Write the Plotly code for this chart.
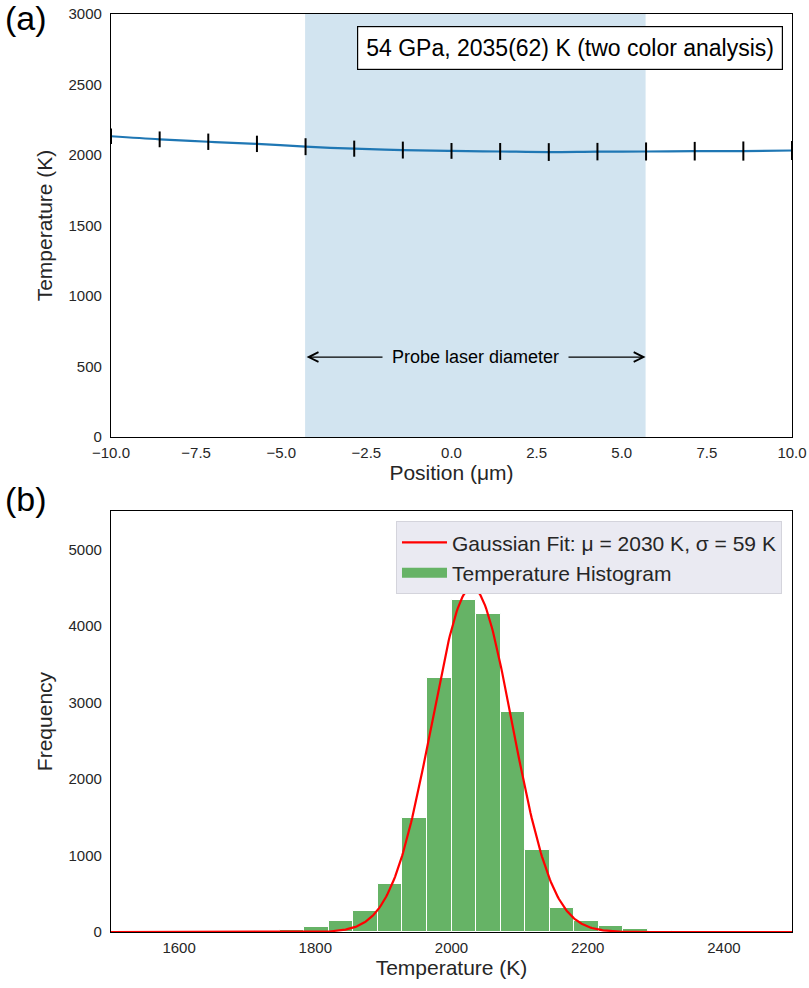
import numpy as np
import plotly.graph_objects as go
from plotly.subplots import make_subplots

# ---------------- data: panel (a) ----------------
positions = [-10.0, -8.571, -7.143, -5.714, -4.286, -2.857, -1.429, 0.0,
             1.429, 2.857, 4.286, 5.714, 7.143, 8.571, 10.0]
temperatures = [2133, 2111, 2094, 2079, 2059, 2045, 2035, 2029,
                2025, 2021, 2024, 2025, 2027, 2028, 2032]
temp_errors = [55, 56, 58, 58, 60, 57, 60, 56, 60, 63, 62, 64, 66, 68, 68]
probe_left, probe_right = -4.3, 5.7
probe_label_y = 567
box_text = "54 GPa, 2035(62) K (two color analysis)"

# ---------------- data: panel (b) ----------------
bin_width = 36
bin_left_edges = [1676, 1712, 1748, 1784, 1820, 1856, 1892, 1928, 1964, 2000,
                  2036, 2072, 2108, 2144, 2180, 2216, 2252, 2288, 2324]
bin_counts = [3, 12, 28, 65, 138, 278, 630, 1495, 3315, 4332,
              4150, 2878, 1075, 312, 142, 78, 44, 12, 3]
fit_mu = 2030
fit_sigma = 59
fit_peak = 4500

FONT = "Arial, Liberation Sans, sans-serif"
TXT = "#262626"
GREEN = "#66b366"

fig = make_subplots(rows=2, cols=1, vertical_spacing=0.0)

fig.add_trace(go.Scatter(x=positions, y=temperatures, mode="lines",
                         line=dict(color="#1f77b4", width=2.2, shape="spline"),
                         showlegend=False), row=1, col=1)
fig.add_trace(go.Scatter(x=positions, y=temperatures, mode="markers",
                         marker=dict(size=1, color="rgba(0,0,0,0)"),
                         error_y=dict(type="data", array=temp_errors, color="black",
                                      thickness=2, width=0),
                         showlegend=False), row=1, col=1)

# shaded probe region
fig.add_shape(type="rect", xref="x", yref="y domain", x0=probe_left, x1=probe_right,
              y0=0, y1=1, fillcolor="#d2e4f0", line_width=0, layer="below")

# histogram bars
bin_centers = [e + bin_width / 2 for e in bin_left_edges]
fig.add_trace(go.Bar(x=bin_centers, y=bin_counts, width=bin_width,
                     marker=dict(color=GREEN, line=dict(color="white", width=1)),
                     showlegend=False), row=2, col=1)

xg = np.linspace(1500, 2500, 600)
yg = fit_peak * np.exp(-(xg - fit_mu) ** 2 / (2 * fit_sigma ** 2))
fig.add_trace(go.Scatter(x=xg, y=yg, mode="lines", line=dict(color="#ff0000", width=2.2),
                         name=f"Gaussian Fit: \u03bc = {fit_mu} K, \u03c3 = {fit_sigma} K",
                         legendrank=1), row=2, col=1)
# legend entry for histogram (wide patch)
fig.add_trace(go.Scatter(x=[None], y=[None], mode="lines", line=dict(color=GREEN, width=13),
                         name="Temperature Histogram", legendrank=2), row=2, col=1)

axis_common = dict(showline=True, linecolor="black", linewidth=1.3, mirror=True,
                   showgrid=False, zeroline=False, ticks="", automargin=False,
                   tickfont=dict(family=FONT, size=15, color=TXT))

fig.update_xaxes(**axis_common, ticklabelstandoff=2)
fig.update_yaxes(**axis_common, ticklabelstandoff=5)

fig.update_xaxes(range=[-10, 10], tickvals=[-10, -7.5, -5, -2.5, 0, 2.5, 5, 7.5, 10],
                 tickformat=".1f",
                 title=dict(text="Position (\u03bcm)", font=dict(family=FONT, size=21, color=TXT),
                            standoff=4),
                 row=1, col=1)
fig.update_yaxes(range=[0, 3000], dtick=500,
                 title=dict(text="Temperature (K)", font=dict(family=FONT, size=21, color=TXT),
                            standoff=10),
                 domain=[0.5392, 1], row=1, col=1)
fig.update_xaxes(range=[1500, 2500], dtick=200,
                 title=dict(text="Temperature (K)", font=dict(family=FONT, size=21, color=TXT),
                            standoff=4),
                 row=2, col=1)
fig.update_yaxes(range=[0, 5500], dtick=1000,
                 title=dict(text="Frequency", font=dict(family=FONT, size=21, color=TXT),
                            standoff=10),
                 domain=[0, 0.4586], row=2, col=1)

# probe laser arrow
fig.add_annotation(x=probe_right, y=probe_label_y, ax=probe_left, ay=probe_label_y,
                   xref="x", yref="y", axref="x", ayref="y", text="",
                   showarrow=True, arrowside="end+start", arrowhead=5, arrowsize=1.6,
                   arrowwidth=1.2, arrowcolor="black")
fig.add_annotation(x=(probe_left + probe_right) / 2, y=probe_label_y, xref="x", yref="y",
                   text="Probe laser diameter", showarrow=False, bgcolor="#d2e4f0",
                   borderpad=9, font=dict(family=FONT, size=18, color="black"))

# info box
fig.add_annotation(x=0.9868, y=0.9716, xref="x domain", yref="y domain",
                   xanchor="right", yanchor="top", text=box_text, showarrow=False,
                   bgcolor="white", bordercolor="black", borderwidth=1.2, borderpad=8,
                   font=dict(family=FONT, size=23, color="black"))

# panel labels
fig.add_annotation(x=-0.158, y=1.019, xref="paper", yref="paper", xanchor="left",
                   yanchor="top", text="(a)", showarrow=False,
                   font=dict(family=FONT, size=34, color="black"))
fig.add_annotation(x=-0.158, y=0.495, xref="paper", yref="paper", xanchor="left",
                   yanchor="top", text="(b)", showarrow=False,
                   font=dict(family=FONT, size=34, color="black"))

fig.update_layout(
    width=809, height=988,
    margin=dict(l=111, r=17, t=14, b=56),
    paper_bgcolor="white", plot_bgcolor="white",
    bargap=0,
    showlegend=True,
    legend=dict(x=0.9853, y=0.4475, xanchor="right", yanchor="top",
                bgcolor="#eaeaf2", bordercolor="#d4d4dc", borderwidth=1,
                font=dict(family=FONT, size=21, color=TXT), itemwidth=45,
                tracegroupgap=0),
)

fig.write_html("out.html")
